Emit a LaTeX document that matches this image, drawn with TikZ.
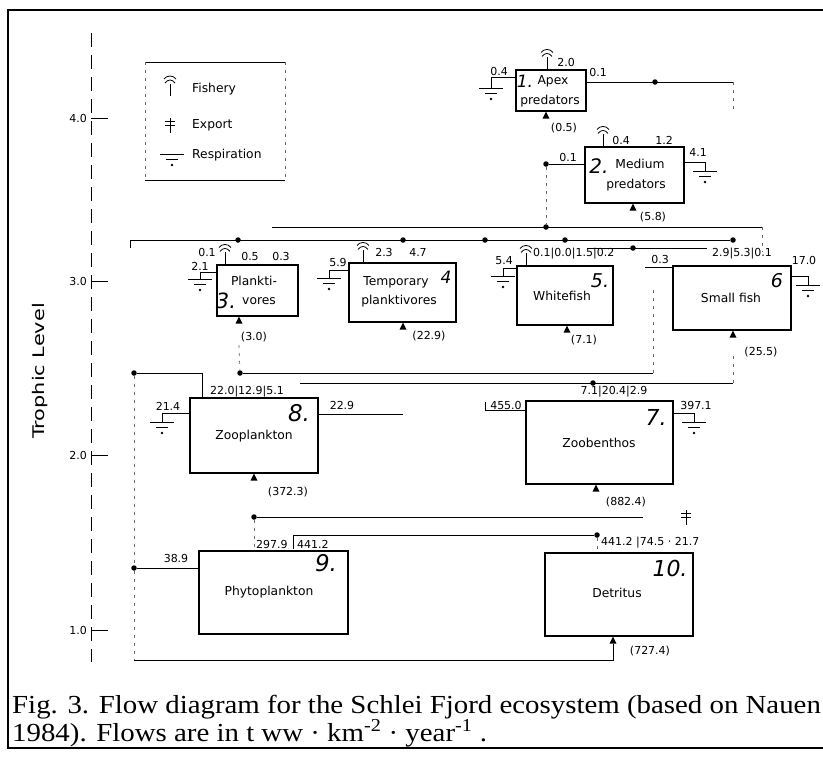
\documentclass[tikz,border=0pt]{standalone}
\usepackage{fontspec}
\usepackage{graphicx}
\setmainfont{Liberation Serif}
\setsansfont{DejaVu Sans}
\usetikzlibrary{calc}
\newcommand\numf{\sffamily\fontsize{11}{11}\selectfont}
\newcommand\boxf{\sffamily\fontsize{12.3}{12.3}\selectfont}
\newcommand\hf[1]{\sffamily\itshape\fontsize{#1}{#1}\selectfont}
\begin{document}
\begin{tikzpicture}[x=1pt,y=-1pt,
  box/.style={draw,line width=1.1pt,inner sep=0pt},
  conn/.style={line width=1pt},
  thinl/.style={line width=0.7pt},
  faint/.style={line width=0.7pt,black!60,dash pattern=on 3pt off 5pt},
  dotn/.style={circle,fill,inner sep=0pt,minimum size=5.5pt},
  num/.style={font=\numf,inner sep=0pt},
  txt/.style={font=\boxf,inner sep=0pt},
  hand/.style={inner sep=0pt},
  ground/.pic={\draw[line width=0.9pt] (-12,0)--(12,0); \draw[line width=0.9pt] (-6,5)--(6,5); \fill (0,11) circle (1.3pt);},
  fishery/.pic={\draw[line width=0.8pt] (0,0)--(0,-12); \draw[line width=0.8pt] (-5,-13) .. controls (-2,-17) and (2,-17) .. (5,-13); \draw[line width=0.8pt] (-6,-17) .. controls (-3,-21) and (3,-21) .. (6,-17);},
  export/.pic={\draw[line width=0.8pt] (0,-8)--(0,7); \draw[line width=0.8pt] (-5,-5)--(5,-5) (-5,-1)--(5,-1);},
  tri/.pic={\fill (0,0)--(3.5,7)--(-3.5,7)--cycle;},
]
\useasboundingbox (0,0) rectangle (823,758);
\fill[white] (0,0) rectangle (823,758);

% frame
\coordinate (fr1) at (823,10);
\coordinate (fr2) at (8,10);
\coordinate (fr3) at (8,748);
\coordinate (fr4) at (823,748);
\draw[line width=1.2pt] (fr1) -- (fr2) -- (fr3) -- (fr4);

% axis
\coordinate (ax0) at (91,33);
\coordinate (ax1) at (91,662);
\draw[thinl,dash pattern=on 14pt off 8pt] (ax0) -- (ax1);
\foreach \v/\yy in {4.0/118,3.0/281,2.0/455,1.0/630}{
  \draw[conn] (91,\yy) -- (108,\yy);
  \node[num,anchor=east] (tick\yy) at (87,\yy) {\v};
}
\node[rotate=90,font=\sffamily\fontsize{16}{16}\selectfont,inner sep=0pt] (ylab) at (40,371) {\scalebox{1.3}[1]{Trophic Level}};

% legend
\coordinate (lg0) at (145,62);
\coordinate (lg1) at (285,62);
\coordinate (lg2) at (285,180);
\coordinate (lg3) at (145,180);
\draw[conn] (lg0) -- (lg1) (lg3) -- (lg2);
\draw[faint] (lg0) -- (lg3) (lg1) -- (lg2);
\pic at (170,96) {fishery};
\pic at (170,126) {export};
\pic at (172,154) {ground};
\node[txt,anchor=west] (lgt1) at (192,89) {Fishery};
\node[txt,anchor=west] (lgt2) at (192,125) {Export};
\node[txt,anchor=west] (lgt3) at (192,155) {Respiration};

% ---------- Box 1
\node[box,minimum width=70pt,minimum height=41pt] (b1) at (551,90.5) {};
\node[hand,font=\hf{17}] (h1) at (525,81) {1.};
\node[txt] (t1a) at (553,81) {Apex};
\node[txt] (t1b) at (550,101) {predators};
\pic at (b1.north -| 547,0) {fishery};
\node[num] (n1a) at (566,62) {2.0};
\node[num] (n1b) at (499,71) {0.4};
\draw[conn] (b1.west |- 0,77) -| (491,88);
\pic at (491,88) {ground};
\node[num] (n1c) at (598,72) {0.1};
\coordinate (c1) at (733,82);
\coordinate (c1b) at (733,112);
\node[dotn] (d1) at (655,82) {};
\draw[conn] (b1.east |- c1) -- (c1);
\draw[faint] (c1) -- (c1b);
\pic at (b1.south -| 546,0) {tri};
\node[num] (n1d) at (564,128) {(0.5)};

% ---------- Box 2
\node[box,minimum width=99pt,minimum height=56pt] (b2) at (634.5,175) {};
\node[hand,font=\hf{20}] (h2) at (599,166) {2.};
\node[txt] (t2a) at (640,164) {Medium};
\node[txt] (t2b) at (636,185) {predators};
\pic at (b2.north -| 603,0) {fishery};
\node[num] (n2a) at (621,140) {0.4};
\node[num] (n2b) at (664,140) {1.2};
\node[num] (n2c) at (698,152) {4.1};
\draw[conn] (b2.east |- 0,162) -| (705,171);
\pic at (705,171) {ground};
\node[dotn] (d2) at (546,164) {};
\node[num] (n2d) at (568,157) {0.1};
\draw[conn] (d2) -- (b2.west |- d2);
\pic at (b2.south -| 633,0) {tri};
\node[num] (n2e) at (653,217) {(5.8)};

% ---------- long lines near top of level 3
\coordinate (A0) at (272,227);
\coordinate (A1) at (762,227);
\coordinate (A2) at (762,252);
\node[dotn] (dA) at (546,227) {};
\draw[conn] (A0) -- (A1);
\draw[faint] (d2) -- (dA);
\draw[faint] (A1) -- (A2);

\coordinate (B0) at (130,248);
\coordinate (B1) at (130,240);
\node[dotn] (dB1) at (238,240) {};
\node[dotn] (dB2) at (403,240) {};
\node[dotn] (dB3) at (485,240) {};
\node[dotn] (dB4) at (565,240) {};
\node[dotn] (dB5) at (733,240) {};
\draw[conn] (B0) -- (B1) -- (dB5);

\coordinate (C0) at (587,248);
\coordinate (C1) at (707,248);
\node[dotn] (dC) at (633,248) {};
\draw[conn] (C0) -- (C1);

% ---------- Box 3
\node[box,minimum width=81pt,minimum height=51pt] (b3) at (257.5,290.5) {};
\node[hand,font=\hf{21}] (h3) at (226,301) {3.};
\node[txt] (t3a) at (254,281) {Plankti-};
\node[txt] (t3b) at (259,301) {vores};
\node[num] (n3a) at (207,252) {0.1};
\pic at (b3.north -| 225,0) {fishery};
\node[num] (n3b) at (250,256) {0.5};
\node[num] (n3c) at (281,256) {0.3};
\node[num] (n3d) at (200,266) {2.1};
\draw[conn] (b3.west |- 0,272) -| (200,279);
\pic at (200,279) {ground};
\pic at (b3.south -| 239,0) {tri};
\node[num] (n3e) at (254,337) {(3.0)};

% ---------- Box 4
\node[box,minimum width=107pt,minimum height=59pt] (b4) at (402.5,292.5) {};
\node[hand,font=\hf{17}] (h4) at (446,277) {4};
\node[txt] (t4a) at (396,282) {Temporary};
\node[txt] (t4b) at (399,301) {planktivores};
\pic at (b4.north -| 363,0) {fishery};
\node[num] (n4a) at (384,252) {2.3};
\node[num] (n4b) at (418,252) {4.7};
\node[num] (n4c) at (338,262) {5.9};
\draw[conn] (b4.west |- 0,270) -| (329,278);
\pic at (329,278) {ground};
\pic at (b4.south -| 403,0) {tri};
\node[num] (n4d) at (429,336) {(22.9)};

% ---------- Box 5
\node[box,minimum width=96pt,minimum height=59pt] (b5) at (565,295.5) {};
\node[hand,font=\hf{19}] (h5) at (600,281) {5.};
\node[txt] (t5a) at (562,296) {Whitefish};
\pic at (b5.north -| 526,0) {fishery};
\node[num,anchor=west] (n5a) at (533,254) {0.1|0.0|1.5|0.2};
\node[num] (n5b) at (504,261) {5.4};
\draw[conn] (b5.west |- 0,268) -| (503,276);
\pic at (503,276) {ground};
\pic at (b5.south -| 567,0) {tri};
\node[num] (n5c) at (584,340) {(7.1)};

% ---------- Box 6
\node[box,minimum width=118pt,minimum height=64pt] (b6) at (732,298) {};
\node[hand,font=\hf{19}] (h6) at (777,281) {6};
\node[txt] (t6a) at (731,298) {Small fish};
\node[num] (n6a) at (742,254) {2.9|5.3|0.1};
\node[num] (n6b) at (660,259) {0.3};
\coordinate (c6) at (645,267);
\draw[conn] (c6) -- (b6.west |- c6);
\node[num] (n6c) at (804,260) {17.0};
\draw[conn] (b6.east |- 0,276) -| (808,285);
\pic at (808,285) {ground};
\pic at (b6.south -| 733,0) {tri};
\node[num] (n6d) at (761,352) {(25.5)};

% ---------- lines between level 3 and level 2
\node[dotn] (dD0) at (134,373) {};
\coordinate (D1) at (202,373);
\node[dotn] (dD1) at (240,373) {};
\coordinate (D2) at (653,373);
\coordinate (D3) at (653,290);
\coordinate (D4) at (239,345);
\draw[conn] (dD1) -- (D2);
\draw[faint] (D2) -- (D3);
\draw[faint] (D4) -- (dD1);

\coordinate (E0) at (300,383);
\coordinate (E1) at (733,383);
\coordinate (E2) at (733,356);
\node[dotn] (dE) at (593,383) {};
\draw[conn] (E0) -- (E1);
\draw[faint] (E1) -- (E2);

% ---------- Box 8
\node[box,minimum width=128pt,minimum height=75pt] (b8) at (254,435.5) {};
\draw[conn] (dD0) -- (D1) -- (D1 |- b8.north);
\node[hand,font=\hf{23}] (h8) at (299,413) {8.};
\node[txt] (t8a) at (254,436) {Zooplankton};
\node[num] (n8a) at (247,392) {22.0|12.9|5.1};
\node[num] (n8b) at (168,406) {21.4};
\draw[conn] (b8.west |- 0,413) -| (162,422);
\pic at (162,422) {ground};
\node[num] (n8c) at (342,405) {22.9};
\coordinate (c8) at (403,414);
\draw[conn] (b8.east |- c8) -- (c8);
\pic at (b8.south -| 254,0) {tri};
\node[num] (n8d) at (288,492) {(372.3)};

% ---------- Box 7
\node[box,minimum width=147pt,minimum height=83pt] (b7) at (599.5,442.5) {};
\node[hand,font=\hf{22}] (h7) at (656,417) {7.};
\node[txt] (t7a) at (599,443) {Zoobenthos};
\node[num] (n7a) at (614,392) {7.1|20.4|2.9};
\node[num] (n7b) at (506,405) {455.0};
\coordinate (c7) at (485,402);
\draw[conn] (c7) |- (b7.west |- 0,410);
\node[num] (n7c) at (696,405) {397.1};
\draw[conn] (b7.east |- 0,413) -| (694,422);
\pic at (694,422) {ground};
\pic at (b7.south -| 596,0) {tri};
\node[num] (n7d) at (626,502) {(882.4)};

% ---------- Box 9
\node[box,minimum width=149pt,minimum height=83pt] (b9) at (273.5,592.5) {};
\node[hand,font=\hf{23}] (h9) at (326,563) {9.};
\node[txt] (t9a) at (269,592) {Phytoplankton};
\node[num,anchor=west] (n9a) at (256,544) {297.9};
\node[num,anchor=west] (n9c) at (297,544) {441.2};
\node[num] (n9b) at (176,558) {38.9};
\node[dotn] (dH) at (134,568) {};
\draw[conn] (dH) -- (b9.west |- dH);
\draw[faint] (dD0) -- (dH);

\node[dotn] (dF) at (254,517) {};
\coordinate (F1) at (643,517);
\draw[conn] (dF) -- (F1);
\draw[faint] (dF) -- (dF |- b9.north);

% ---------- Box 10
\node[box,minimum width=148pt,minimum height=83pt] (b10) at (619,594.5) {};
\node[hand,font=\hf{22}] (h10) at (670,568) {10.};
\node[txt] (t10a) at (617,593) {Detritus};
\node[num,anchor=west] (n10a) at (601,543) {441.2 |74.5 · 21.7};
\pic at (686,518) {export};
\pic at (b10.south -| 613,0) {tri};
\node[num] (n10b) at (650,651) {(727.4)};

\coordinate (G0) at (293,549);
\coordinate (G1) at (293,535);
\node[dotn] (dG) at (597,535) {};
\draw[conn] (G0) -- (G1) -- (dG);
\draw[faint] (dG) -- (dG |- b10.north);

\coordinate (J0) at (134,660);
\coordinate (J1) at (613,660);
\coordinate (J2) at (613,644);
\draw[faint] (dH) -- (J0);
\draw[conn] (J0) -- (J1) -- (J2);

% caption
\node[anchor=base west,inner sep=0pt,font=\rmfamily\fontsize{26}{26}\selectfont] (cap1) at (12,713) {\scalebox{1.11}[1]{Fig. 3. Flow diagram for the Schlei Fjord ecosystem (based on Nauen}};
\node[anchor=base west,inner sep=0pt,font=\rmfamily\fontsize{26}{26}\selectfont] (cap2) at (12,741) {\scalebox{1.11}[1]{1984). Flows are in t ww · km\textsuperscript{-2} · year\textsuperscript{-1} .}};
\end{tikzpicture}
\end{document}
